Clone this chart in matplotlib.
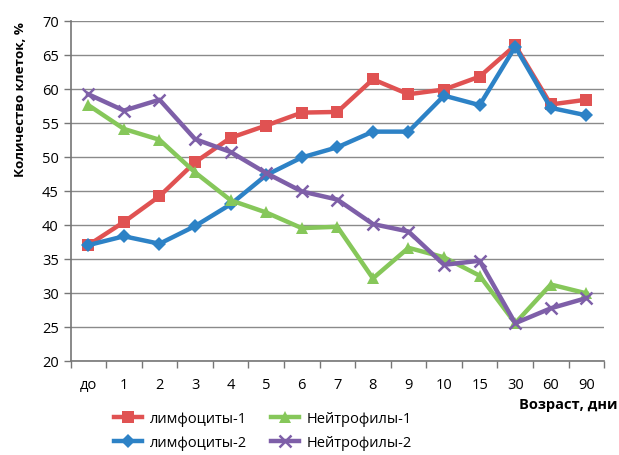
import matplotlib.pyplot as plt
import numpy as np

# возраст (дни) и содержание клеток, %
days = ['до', '1', '2', '3', '4', '5', '6', '7', '8', '9', '10', '15', '30', '60', '90']
lymph_1 = [37.0, 40.4, 44.2, 49.2, 52.8, 54.6, 56.5, 56.6, 61.4, 59.2, 59.9, 61.8, 66.4, 57.7, 58.4]
lymph_2 = [37.0, 38.3, 37.2, 39.8, 43.0, 47.3, 49.9, 51.4, 53.7, 53.7, 59.0, 57.6, 66.2, 57.2, 56.1]
neutro_1 = [57.6, 54.1, 52.5, 47.7, 43.6, 41.8, 39.5, 39.7, 32.1, 36.6, 35.2, 32.5, 25.5, 31.2, 29.9]
neutro_2 = [59.2, 56.8, 58.4, 52.6, 50.7, 47.6, 44.9, 43.7, 40.1, 39.0, 34.1, 34.7, 25.5, 27.7, 29.2]

plt.rcParams['font.family'] = ['Open Sans', 'DejaVu Sans']

fig = plt.figure(figsize=(6.19, 4.56), dpi=100)
ax = fig.add_axes([0.114, 0.207, 0.862, 0.745])

x = np.arange(len(days))
series = [
    (lymph_1, 'лимфоциты-1', '#e05252', 's', 9),
    (lymph_2, 'лимфоциты-2', '#2d82c6', 'D', 7),
    (neutro_1, 'Нейтрофилы-1', '#86c75a', '^', 9),
    (neutro_2, 'Нейтрофилы-2', '#7e5fa8', 'x', 9),
]
handles = []
for vals, name, col, mk, ms in series:
    kw = dict(markeredgewidth=1.8) if mk == 'x' else dict(markeredgewidth=0)
    h, = ax.plot(x, vals, color=col, lw=3.2, marker=mk, markersize=ms,
                 markerfacecolor=col, markeredgecolor=col, label=name, **kw)
    handles.append(h)

ax.set_xlim(-0.5, len(days) - 0.5)
ax.set_ylim(20, 70)
ax.set_yticks(np.arange(20, 71, 5))
ax.yaxis.grid(True, color='#8a8a8a', lw=1)
ax.set_axisbelow(True)

ax.set_xticks(x)
ax.set_xticklabels(days)
ax.set_xticks(np.arange(-0.5, len(days), 1), minor=True)
ax.tick_params(axis='x', which='major', length=0, pad=12, labelsize=10.5)
ax.tick_params(axis='x', which='minor', length=5, color='#767676', width=1)
ax.tick_params(axis='y', length=5, color='#767676', width=1, labelsize=10.5)

for side in ['top', 'right']:
    ax.spines[side].set_visible(False)
for side in ['left', 'bottom']:
    ax.spines[side].set_color('#767676')
    ax.spines[side].set_linewidth(1.2)

fig.text(0.033, 0.782, 'Количество клеток, %', rotation=90, ha='center',
         va='center', fontsize=9.6, fontweight='bold')
fig.text(0.997, 0.112, 'Возраст, дни', ha='right', va='center',
         fontsize=10.5, fontweight='bold')

fig.legend(handles=handles, ncol=2, frameon=False, loc='center',
           bbox_to_anchor=(0.425, 0.053), fontsize=10.5, handlelength=1.9,
           columnspacing=1.7, labelspacing=0.6, handletextpad=0.5)

fig.savefig('out.png', dpi=100)
